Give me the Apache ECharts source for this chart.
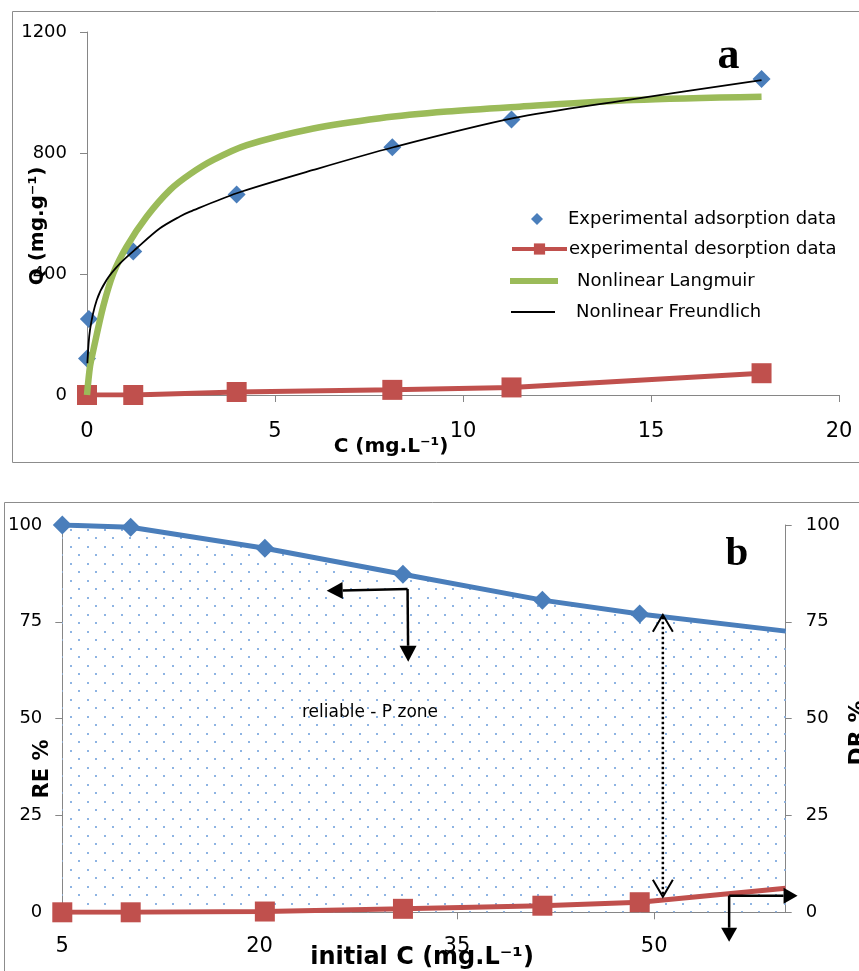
<!DOCTYPE html>
<html>
<head>
<meta charset="utf-8">
<script src="https://cdn.jsdelivr.net/npm/echarts@6/dist/echarts.min.js"></script>
<style>
  html, body { margin: 0; padding: 0; background: #fff; }
  #main { width: 859px; height: 971px; }
</style>
</head>
<body>
<div id="main"></div>
<script>
// ---- panel a : isotherm ----
const qTicks = [0, 400, 800, 1200];
const cTicks = [0, 5, 10, 15, 20];

const adsorptionC = [0, 0.05, 1.23, 3.98, 8.12, 11.29, 17.94];
const adsorptionQ = [121, 251, 474, 663, 819, 911, 1045];

const desorptionC = [0, 1.23, 3.98, 8.12, 11.29, 17.94];
const desorptionQ = [0, 0, 10, 17, 25, 72];

const langmuirC = [0, 0.08, 0.17, 0.43, 0.70, 1.05, 1.59, 2.21, 2.74, 3.36, 4.25, 6.02, 7.79, 9.57, 11.5, 14.53, 17.94];
const langmuirQ = [0, 94, 149, 292, 402, 490, 590, 678, 730, 777, 826, 881, 915, 937, 953, 975, 986];

const freundlichC = [0.01, 0.08, 0.26, 0.52, 0.88, 1.32, 1.94, 2.47, 2.74, 3.98, 6.02, 8.15, 11.34, 14.26, 17.94];
const freundlichQ = [105, 215, 314, 380, 435, 485, 551, 590, 606, 667, 744, 819, 915, 973, 1041];

// ---- panel b : RE / DR ----
const pctTicks = [0, 25, 50, 75, 100];
const initialCTicks = [5, 20, 35, 50];
const initialC = [5, 10.2, 20.4, 30.9, 41.5, 48.9, 60];
const removalRE = [100, 99.4, 94, 87.3, 80.6, 77, 72.6];
const desorbDR = [0, 0, 0.2, 0.9, 1.7, 2.6, 6.2];

const FONT = 'DejaVu Sans';
const GREY = '#868686';
const BLUE = '#4a7ebb';
const RED = '#c0504d';
const GREEN = '#9bbb59';

const pairs = (xs, ys) => xs.map((x, i) => [x, ys[i]]);
// last point sits on the right axis, Excel shows no marker there
const endNoMarker = (xs, ys) => xs.map((x, i) =>
    i === xs.length - 1 ? { value: [x, ys[i]], symbol: 'none' } : [x, ys[i]]);

function dotPattern() {
    const c = document.createElement('canvas');
    c.width = 17;
    c.height = 17;
    const ctx = c.getContext('2d');
    ctx.fillStyle = '#8eb4e3';
    ctx.fillRect(2, 2, 2, 2);
    ctx.fillRect(10, 10, 2, 2);
    return c;
}

const axisLine = { show: true, lineStyle: { color: GREY, width: 1 } };
const axisTick = { show: true, inside: false, length: 7, lineStyle: { color: GREY } };
const plain = v => String(v);

const chart = echarts.init(document.getElementById('main'));

const option = {
    animation: false,
    backgroundColor: '#fff',
    textStyle: { fontFamily: FONT, color: '#000' },
    grid: [
        { left: 87, top: 32, width: 752, height: 363 },
        { left: 62.3, top: 525, width: 723.4, height: 387.3 }
    ],
    legend: [
        {
            data: ['Experimental adsorption data'],
            left: 526, top: 205, itemWidth: 12, itemHeight: 12,
            textStyle: { fontSize: 18, fontFamily: FONT, color: '#000', padding: [0, 0, 0, 20] }
        },
        {
            data: ['experimental desorption data'],
            left: 505, top: 235, itemWidth: 55, itemHeight: 14,
            lineStyle: { width: 4 },
            textStyle: { fontSize: 18, fontFamily: FONT, color: '#000', padding: [0, 0, 0, -3] }
        },
        {
            data: [{ name: 'Nonlinear Langmuir', icon: 'rect' }],
            left: 505, top: 267, itemWidth: 48, itemHeight: 6,
            textStyle: { fontSize: 18, fontFamily: FONT, color: '#000', padding: [10, 0, 0, 14] }
        },
        {
            data: [{ name: 'Nonlinear Freundlich', icon: 'rect' }],
            left: 506, top: 298, itemWidth: 44, itemHeight: 2,
            textStyle: { fontSize: 18, fontFamily: FONT, color: '#000', padding: [12, 0, 0, 16] }
        }
    ],
    xAxis: [
        {
            gridIndex: 0, type: 'value',
            min: cTicks[0], max: cTicks[cTicks.length - 1], interval: cTicks[1] - cTicks[0],
            axisLine: axisLine, axisTick: axisTick,
            axisLabel: { fontSize: 21, margin: 26, color: '#000', fontFamily: FONT, formatter: plain },
            splitLine: { show: false }
        },
        {
            gridIndex: 1, type: 'value',
            min: initialCTicks[0], max: 60,
            axisLine: axisLine,
            axisTick: Object.assign({ customValues: initialCTicks }, axisTick),
            axisLabel: { customValues: initialCTicks, fontSize: 21, margin: 24, color: '#000', fontFamily: FONT, formatter: plain },
            splitLine: { show: false }
        }
    ],
    yAxis: [
        {
            gridIndex: 0, type: 'value',
            min: qTicks[0], max: qTicks[qTicks.length - 1], interval: qTicks[1] - qTicks[0],
            axisLine: axisLine, axisTick: axisTick,
            axisLabel: { fontSize: 18, margin: 20, color: '#000', fontFamily: FONT, formatter: plain },
            splitLine: { show: false }
        },
        {
            gridIndex: 1, type: 'value', position: 'left',
            min: pctTicks[0], max: pctTicks[pctTicks.length - 1], interval: pctTicks[1] - pctTicks[0],
            axisLine: axisLine, axisTick: axisTick,
            axisLabel: { fontSize: 18, margin: 20, color: '#000', fontFamily: FONT, formatter: plain },
            splitLine: { show: false }
        },
        {
            gridIndex: 1, type: 'value', position: 'right',
            min: pctTicks[0], max: pctTicks[pctTicks.length - 1], interval: pctTicks[1] - pctTicks[0],
            axisLine: axisLine, axisTick: Object.assign({}, axisTick, { length: 6 }),
            axisLabel: { fontSize: 18, margin: 20, color: '#000', fontFamily: FONT, formatter: plain },
            splitLine: { show: false }
        }
    ],
    series: [
        {
            name: 'Experimental adsorption data',
            type: 'scatter', xAxisIndex: 0, yAxisIndex: 0, z: 2,
            symbol: 'diamond', symbolSize: 18,
            itemStyle: { color: BLUE, opacity: 1 },
            data: pairs(adsorptionC, adsorptionQ)
        },
        {
            name: 'experimental desorption data',
            type: 'line', xAxisIndex: 0, yAxisIndex: 0, z: 3,
            symbol: 'rect', symbolSize: 20,
            lineStyle: { color: RED, width: 5 },
            itemStyle: { color: RED },
            data: pairs(desorptionC, desorptionQ)
        },
        {
            name: 'Nonlinear Langmuir',
            type: 'line', xAxisIndex: 0, yAxisIndex: 0, z: 4,
            symbol: 'none', smooth: 0.3,
            lineStyle: { color: GREEN, width: 6.5 },
            itemStyle: { color: GREEN },
            data: pairs(langmuirC, langmuirQ)
        },
        {
            name: 'Nonlinear Freundlich',
            type: 'line', xAxisIndex: 0, yAxisIndex: 0, z: 5,
            symbol: 'none', smooth: 0.3,
            lineStyle: { color: '#000', width: 1.8 },
            itemStyle: { color: '#000' },
            data: pairs(freundlichC, freundlichQ)
        },
        {
            name: 'RE %',
            type: 'line', xAxisIndex: 1, yAxisIndex: 1, z: 3,
            symbol: 'diamond', symbolSize: 19,
            lineStyle: { color: BLUE, width: 5 },
            itemStyle: { color: BLUE },
            areaStyle: { color: { image: dotPattern(), repeat: 'repeat' }, opacity: 1 },
            data: endNoMarker(initialC, removalRE)
        },
        {
            name: 'DR %',
            type: 'line', xAxisIndex: 1, yAxisIndex: 2, z: 4,
            symbol: 'rect', symbolSize: 20,
            lineStyle: { color: RED, width: 5 },
            itemStyle: { color: RED },
            data: endNoMarker(initialC, desorbDR)
        }
    ]
};

chart.setOption(option);

// ---- annotations (placed through panel b's axes) ----
const zoneElbow = [31.25, 83.5];
const zoneLeftTip = [25.1, 83.0];
const zoneDownTip = [31.3, 64.7];
const gapTop = [50.66, 76.8];
const gapBottom = [50.66, 4.0];
const cornerElbow = [55.7, 4.3];
const cornerRightTip = [60.9, 4.3];
const cornerDownTip = [55.7, -7.6];

const toPx = p => chart.convertToPixel({ xAxisIndex: 1, yAxisIndex: 1 }, p);

function solidArrow(from, to, len, half) {
    const a = toPx(from), b = toPx(to);
    const dx = b[0] - a[0], dy = b[1] - a[1];
    const d = Math.hypot(dx, dy);
    const ux = dx / d, uy = dy / d;
    const base = [b[0] - ux * len, b[1] - uy * len];
    return [
        { type: 'line', z: 100, shape: { x1: a[0], y1: a[1], x2: base[0], y2: base[1] },
          style: { stroke: '#000', lineWidth: 2.5 } },
        { type: 'polygon', z: 100,
          shape: { points: [b, [base[0] - uy * half, base[1] + ux * half], [base[0] + uy * half, base[1] - ux * half]] },
          style: { fill: '#000' } }
    ];
}

function openHead(tip, from, len, half) {
    const dx = tip[0] - from[0], dy = tip[1] - from[1];
    const d = Math.hypot(dx, dy);
    const ux = dx / d, uy = dy / d;
    const base = [tip[0] - ux * len, tip[1] - uy * len];
    return { type: 'polyline', z: 100,
        shape: { points: [[base[0] - uy * half, base[1] + ux * half], tip, [base[0] + uy * half, base[1] - ux * half]] },
        style: { stroke: '#000', lineWidth: 2, fill: null } };
}

const gt = toPx(gapTop), gb = toPx(gapBottom);

function label(text, x, y, font, rotation) {
    return { type: 'text', z: 100, x: x, y: y, rotation: rotation || 0,
        style: { text: text, font: font, fill: '#000', align: 'center', verticalAlign: 'middle' } };
}

const graphics = [
    { type: 'rect', z: 0, shape: { x: 12.5, y: 11.5, width: 900, height: 451 },
      style: { stroke: '#8c8c8c', lineWidth: 1, fill: null } },
    { type: 'rect', z: 0, shape: { x: 4.5, y: 502.5, width: 900, height: 600 },
      style: { stroke: '#8c8c8c', lineWidth: 1, fill: null } },
    label('Q (mg.g\u207B\u00B9)', 38, 226, 'bold 20px "DejaVu Sans"', Math.PI / 2),
    label('C (mg.L\u207B\u00B9)', 391, 447, 'bold 20px "DejaVu Sans"'),
    label('a', 728.5, 57, 'bold 44px "Liberation Serif"'),
    label('b', 737, 554, 'bold 41px "Liberation Serif"'),
    label('RE %', 43, 769, 'bold 21px "DejaVu Sans"', Math.PI / 2),
    label('DR %', 858, 733, 'bold 22px "DejaVu Sans"', Math.PI / 2),
    label('initial C (mg.L\u207B\u00B9)', 422, 958, 'bold 24px "DejaVu Sans"'),
    { type: 'text', z: 100, x: 302, y: 713,
      style: { text: 'reliable - P zone', font: '17px "DejaVu Sans"', fill: '#000', align: 'left', verticalAlign: 'middle' } },
    { type: 'line', z: 100, shape: { x1: gt[0], y1: gt[1] + 2, x2: gb[0], y2: gb[1] - 2 },
      style: { stroke: '#000', lineWidth: 2.5, lineDash: [2.5, 2.5] } },
    openHead(gt, gb, 17, 10),
    openHead(gb, gt, 17, 10)
].concat(
    solidArrow(zoneElbow, zoneLeftTip, 16, 8.5),
    solidArrow(zoneElbow, zoneDownTip, 16, 8.5),
    solidArrow(cornerElbow, cornerRightTip, 14, 8),
    solidArrow(cornerElbow, cornerDownTip, 14, 8)
);

chart.setOption({ graphic: graphics });
</script>
</body>
</html>
